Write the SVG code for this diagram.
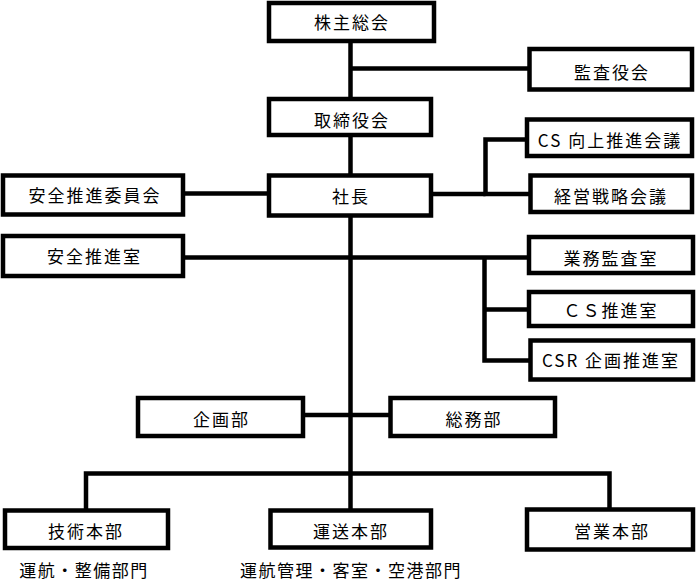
<svg xmlns="http://www.w3.org/2000/svg" width="696" height="581" viewBox="0 0 696 581">
<style>
.box rect{fill:#fff;stroke:#000;stroke-width:4.5}
.box text,.note{font-family:"Noto Sans CJK JP","Noto Sans CJK SC",sans-serif;font-size:17px;letter-spacing:2px;text-anchor:middle;fill:#000}
.note{letter-spacing:1.5px}
.conn{fill:none;stroke:#000;stroke-width:4.5;stroke-linejoin:miter;stroke-linecap:butt}
</style>
<rect width="696" height="581" fill="#fff"/>
<g id="connectors" class="conn">
<path d="M350.5 41V510"/>
<path d="M350.5 68.5H529.5"/>
<path d="M431 194H485.5"/>
<path d="M527 139.5H485.5V194H530.5"/>
<path d="M183 193.5H269"/>
<path d="M183 257.5H529"/>
<path d="M484.5 257.5V360.5H530.5"/>
<path d="M484.5 309.5H529"/>
<path d="M303 415H390.5"/>
<path d="M86 510.5V473.5H609.5V509.5"/>
</g>
<g id="n1" class="box"><rect x="269" y="3" width="165" height="38"/><text x="352" y="29">株主総会</text></g>
<g id="n2" class="box"><rect x="529.5" y="49" width="162.5" height="40.5"/><text x="612" y="78.5">監査役会</text></g>
<g id="n3" class="box"><rect x="269" y="99" width="162" height="36"/><text x="352" y="127">取締役会</text></g>
<g id="n4" class="box"><rect x="527" y="119.5" width="165" height="36.5"/><text x="610" y="147">CS 向上推進会議</text></g>
<g id="n5" class="box"><rect x="530.5" y="175.5" width="161.5" height="36.5"/><text x="611" y="202.5">経営戦略会議</text></g>
<g id="n6" class="box"><rect x="269" y="175.5" width="162" height="40"/><text x="351" y="203">社長</text></g>
<g id="n7" class="box"><rect x="3" y="175.5" width="180" height="39"/><text x="95" y="201.5">安全推進委員会</text></g>
<g id="n8" class="box"><rect x="3" y="236" width="180" height="40"/><text x="94.5" y="263">安全推進室</text></g>
<g id="n9" class="box"><rect x="529" y="237" width="164" height="36"/><text x="611" y="264.5">業務監査室</text></g>
<g id="n10" class="box"><rect x="529" y="292" width="164" height="34"/><text x="611" y="316.5">ＣＳ推進室</text></g>
<g id="n11" class="box"><rect x="530.5" y="340.5" width="162.5" height="39"/><text x="611" y="366.5">CSR 企画推進室</text></g>
<g id="n12" class="box"><rect x="138" y="398" width="165" height="38"/><text x="221.5" y="425.5">企画部</text></g>
<g id="n13" class="box"><rect x="390.5" y="398" width="164.5" height="38"/><text x="474" y="425.5">総務部</text></g>
<g id="n14" class="box"><rect x="5" y="510.5" width="163" height="37.5"/><text x="86" y="538">技術本部</text></g>
<g id="n15" class="box"><rect x="270.5" y="510.5" width="160.5" height="37"/><text x="351" y="538">運送本部</text></g>
<g id="n16" class="box"><rect x="527" y="509.5" width="166" height="40"/><text x="612" y="538">営業本部</text></g>
<text class="note" x="84" y="576.5">運航・整備部門</text>
<text class="note" x="351" y="576.5">運航管理・客室・空港部門</text>
</svg>
